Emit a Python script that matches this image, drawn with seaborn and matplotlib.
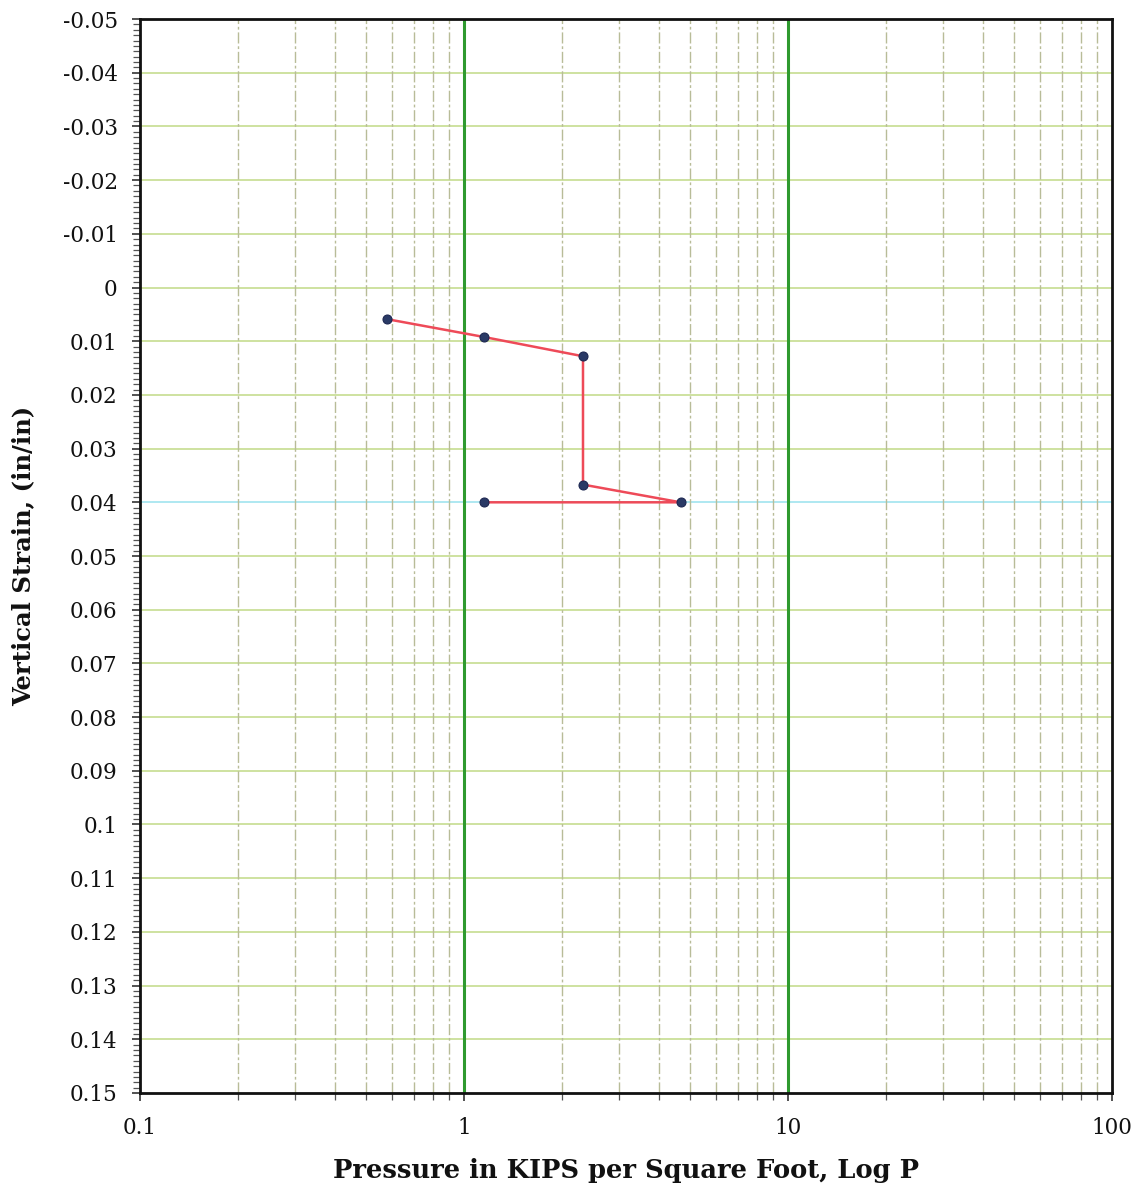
import numpy as np
import pandas as pd
import matplotlib
matplotlib.use("Agg")
import matplotlib.pyplot as plt
import seaborn as sns
from matplotlib.ticker import FixedLocator, NullFormatter, MultipleLocator

# ---- data ----
pressure = [0.58, 1.15, 2.33, 2.33, 4.66, 1.15]
strain = [0.0059, 0.0092, 0.0128, 0.0367, 0.0400, 0.0400]
y_ticks = [-0.05, -0.04, -0.03, -0.02, -0.01, 0, 0.01, 0.02, 0.03, 0.04, 0.05,
           0.06, 0.07, 0.08, 0.09, 0.1, 0.11, 0.12, 0.13, 0.14, 0.15]
y_tick_labels = ["-0.05", "-0.04", "-0.03", "-0.02", "-0.01", "0", "0.01", "0.02",
                 "0.03", "0.04", "0.05", "0.06", "0.07", "0.08", "0.09", "0.1",
                 "0.11", "0.12", "0.13", "0.14", "0.15"]
x_ticks = [0.1, 1, 10, 100]
x_tick_labels = ["0.1", "1", "10", "100"]
x_label = "Pressure in KIPS per Square Foot, Log P"
y_label = "Vertical Strain, (in/in)"

df = pd.DataFrame({"Pressure": pressure, "Strain": strain})

sns.set_theme(style="white")
plt.rcParams['font.family'] = ['DejaVu Serif', 'DejaVu Sans']

fig = plt.figure(figsize=(11.37, 11.97), dpi=100)
ax = fig.add_axes([0.1231, 0.0869, 0.978 - 0.1231, 0.9841 - 0.0869])

ax.set_xscale("log")
ax.set_xlim(0.1, 100)
ax.set_ylim(0.15, -0.05)

# grid: horizontal major lines
for yv in y_ticks[1:-1]:
    col = "#a8e6f0" if abs(yv - 0.04) < 1e-9 else "#cadf98"
    ax.axhline(yv, color=col, lw=1.3, zorder=1)
# vertical minor grid lines
minor_x = [m * 10.0 ** e for e in (-1, 0, 1) for m in range(2, 10)]
for xv in minor_x:
    ax.axvline(xv, color="#b8bc98", lw=1.0, ls=(0, (8, 2, 2, 2)), zorder=1)
for xv in (1, 10):
    ax.axvline(xv, color="#2f9a2f", lw=2.2, zorder=2)

sns.lineplot(data=df, x="Pressure", y="Strain", sort=False, ax=ax,
             color="#ee4a58", lw=1.8, marker="o", markersize=6.5,
             markerfacecolor="#2a3a66", markeredgecolor="#1c2650",
             zorder=5, estimator=None)

ax.xaxis.set_major_locator(FixedLocator(x_ticks))
ax.set_xticklabels(x_tick_labels)
ax.xaxis.set_minor_locator(FixedLocator(minor_x))
ax.xaxis.set_minor_formatter(NullFormatter())
ax.set_yticks(y_ticks)
ax.set_yticklabels(y_tick_labels)
ax.yaxis.set_minor_locator(MultipleLocator(0.001))

ax.tick_params(axis="both", which="major", direction="out", length=6, width=1.2,
               color="#333333", labelsize=15.5, labelcolor="#111111")
ax.tick_params(axis="both", which="minor", direction="out", length=5, width=0.9,
               color="#555555")
ax.tick_params(axis="x", which="major", pad=11)
ax.tick_params(axis="y", which="major", pad=10)
ax.tick_params(left=True, bottom=True, which="both")

for s in ax.spines.values():
    s.set_color("#111111")
    s.set_linewidth(2.0)
    s.set_visible(True)

ax.set_xlabel(x_label, fontsize=18.5, fontweight="bold", labelpad=14, color="#111111")
ax.set_ylabel(y_label, fontsize=17.5, fontweight="bold", labelpad=20, color="#111111")

fig.savefig("out.png", dpi=100, facecolor="white")
